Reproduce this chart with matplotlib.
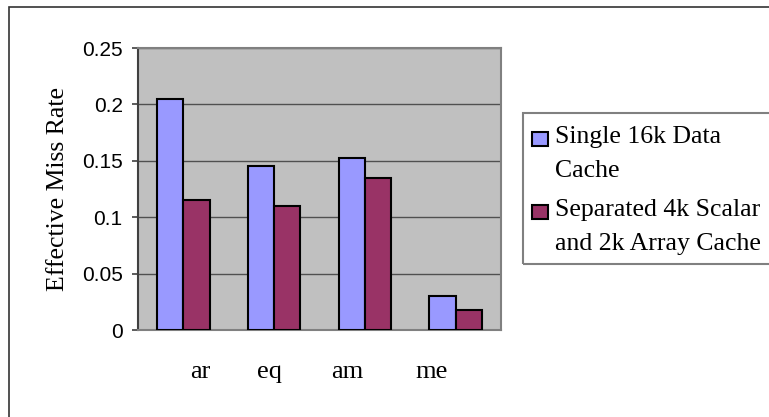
import matplotlib.pyplot as plt
from matplotlib.patches import Rectangle
import numpy as np

# 데이터
categories = ['ar', 'eq', 'am', 'me']
single_16k = [0.205, 0.145, 0.1525, 0.030]
separated_4k_2k = [0.115, 0.110, 0.135, 0.018]
series_labels = ['Single 16k Data\nCache', 'Separated 4k Scalar\nand 2k Array Cache']
y_ticks = [0, 0.05, 0.1, 0.15, 0.2, 0.25]
y_tick_labels = ['0', '0.05', '0.1', '0.15', '0.2', '0.25']

# 색상 (엑셀 기본 팔레트)
colors = ['#9999FF', '#993366']

W, H = 769, 417
fig = plt.figure(figsize=(W / 100, H / 100), dpi=100)


def fx(px):
    return px / W


def fy(py):
    return 1 - py / H


# 차트 바깥 테두리
fig.patches.append(Rectangle((fx(9), -0.1), 1.2, fy(7) + 0.1, transform=fig.transFigure,
                             fill=False, edgecolor='#333333', linewidth=1.2))

ax = fig.add_axes([fx(138), fy(330), fx(501) - fx(138), fy(48) - fy(330)])
ax.set_facecolor('#C0C0C0')

x = np.arange(len(categories))
width = 0.29
ax.bar(x - width / 2, single_16k, width, color=colors[0], edgecolor='black', linewidth=1.5, zorder=3)
ax.bar(x + width / 2, separated_4k_2k, width, color=colors[1], edgecolor='black', linewidth=1.5, zorder=3)

ax.set_xlim(-0.5, len(categories) - 0.5)
ax.set_ylim(0, 0.25)
ax.set_yticks(y_ticks)
ax.set_yticklabels(y_tick_labels, family='Liberation Sans', fontsize=15)
ax.yaxis.grid(True, color='#505050', linewidth=1.0, zorder=1)
ax.tick_params(axis='y', length=4, width=1.2, color='#404040', pad=7)

# x축 라벨 (원본에서 살짝 어긋난 위치)
label_offsets = [0.19, -0.05, -0.19, -0.27]
ax.set_xticks(x + np.array(label_offsets))
ax.set_xticklabels(categories, family='Liberation Serif', fontsize=19)
ax.tick_params(axis='x', length=0, pad=22)

ax.set_ylabel('Effective Miss Rate', family='Liberation Serif', fontsize=18.5, labelpad=9)

for side in ['top', 'right', 'bottom']:
    ax.spines[side].set_color('#808080')
    ax.spines[side].set_linewidth(1.5)
ax.spines['left'].set_color('#404040')
ax.spines['left'].set_linewidth(1.5)

# 범례 (수동 배치)
fig.patches.append(Rectangle((fx(523), fy(264)), 1.0, fy(113) - fy(264), transform=fig.transFigure,
                             fill=False, edgecolor='#808080', linewidth=1.5))
marker_tops = [132, 205]
for i, label in enumerate(series_labels):
    top = marker_tops[i]
    fig.patches.append(Rectangle((fx(532), fy(top + 14)), fx(16), fy(top) - fy(top + 14),
                                 transform=fig.transFigure, facecolor=colors[i],
                                 edgecolor='black', linewidth=1.5))
    fig.text(fx(555), fy(top - 6), label, family='Liberation Serif', fontsize=18.5,
             va='top', ha='left', linespacing=1.72)

fig.savefig('out.png', dpi=100)
